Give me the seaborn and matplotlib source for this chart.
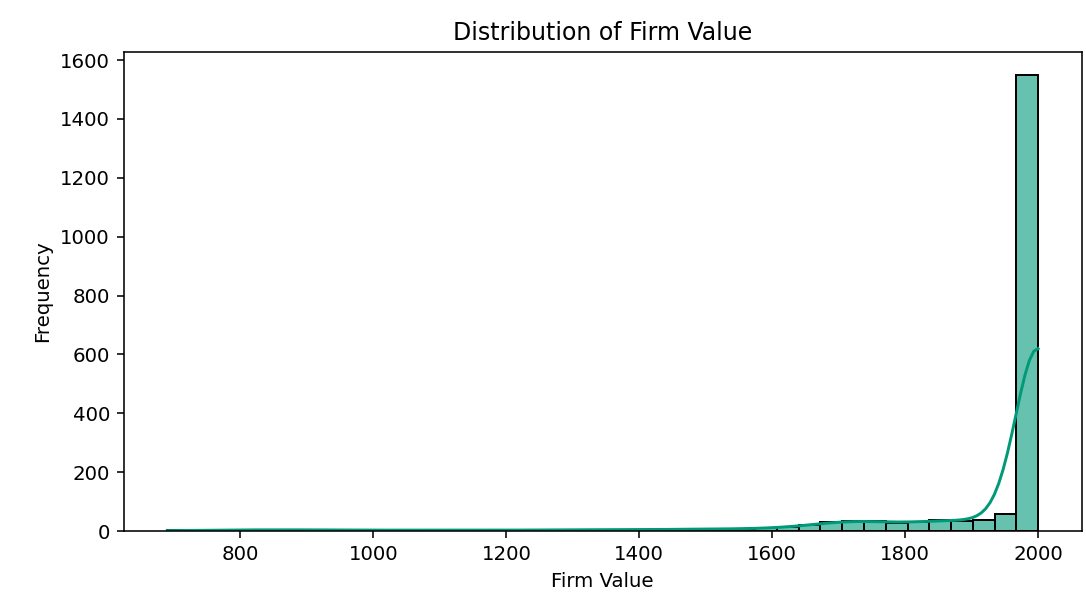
import numpy as np
import pandas as pd
import seaborn as sns
import matplotlib
matplotlib.use("Agg")
import matplotlib.pyplot as plt

# Firm value levels (one per histogram bin) and how many firms sit at each level
firm_value = [690, 739, 772, 805, 837, 870, 903, 936, 968, 1001,
              1034, 1067, 1099, 1132, 1165, 1198, 1230, 1263, 1296, 1329,
              1361, 1394, 1427, 1460, 1492, 1525, 1558, 1591, 1623, 1656,
              1689, 1722, 1754, 1787, 1820, 1853, 1885, 1918, 1951, 2000]
n_firms = [2, 3, 3, 4, 4, 4, 4, 4, 3, 3,
           3, 3, 3, 3, 3, 3, 3, 4, 4, 4,
           4, 5, 5, 6, 6, 7, 8, 9, 13, 20,
           31, 34, 33, 28, 31, 36, 34, 39, 59, 1550]

df = pd.DataFrame({"firm_value": np.repeat(firm_value, n_firms)})

plt.figure(figsize=(1086 / 142, 598 / 142), dpi=142)
ax = sns.histplot(df["firm_value"], bins=40, binrange=(690, 2000), kde=True,
                  kde_kws={"bw_adjust": 0.75},
                  color="#009a78", alpha=0.6, edgecolor="black", linewidth=1)
plt.title("Distribution of Firm Value")
plt.xlabel("Firm Value")
plt.ylabel("Frequency")
plt.subplots_adjust(left=0.114, right=0.996, top=0.913, bottom=0.112)
plt.savefig("out.png", dpi=142)
